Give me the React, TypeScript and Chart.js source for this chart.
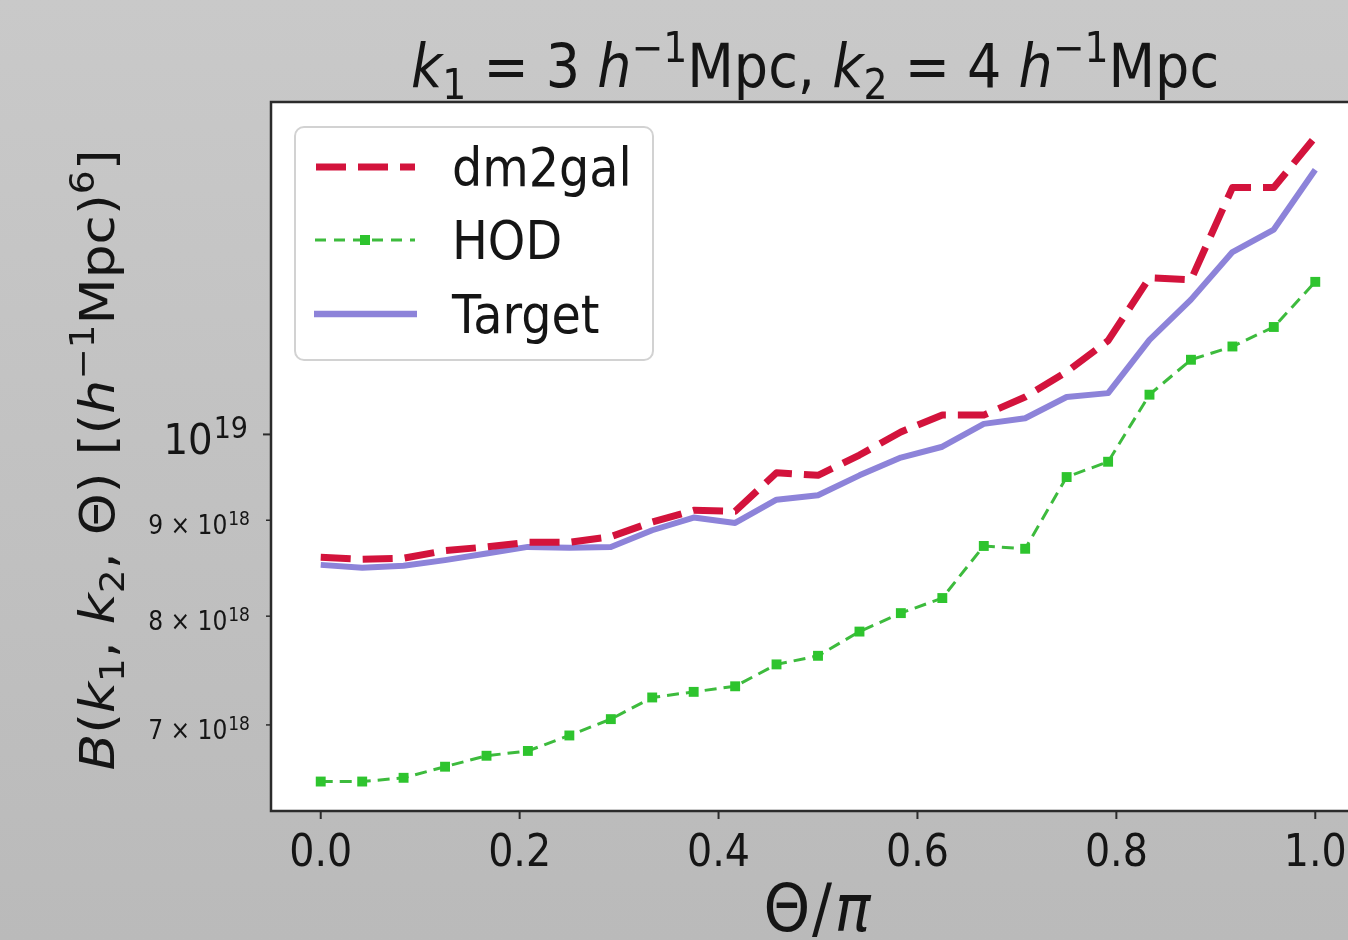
import React, { useEffect, useRef } from "react";
import { Chart, registerables } from "chart.js";

Chart.register(...registerables);

// ---------------- data ----------------
const theta = [
  0, 0.0417, 0.0833, 0.125, 0.1667, 0.2083, 0.25, 0.2917, 0.3333, 0.375, 0.4167, 0.4583, 0.5,
  0.5417, 0.5833, 0.625, 0.6667, 0.7083, 0.75, 0.7917, 0.8333, 0.875, 0.9167, 0.9583, 1.0,
];
const dm2gal = [
  8.6e18, 8.58e18, 8.59e18, 8.67e18, 8.71e18, 8.76e18, 8.76e18, 8.82e18, 8.98e18, 9.11e18, 9.1e18,
  9.54e18, 9.51e18, 9.75e18, 1.003e19, 1.024e19, 1.024e19, 1.047e19, 1.08e19, 1.122e19, 1.212e19,
  1.209e19, 1.354e19, 1.354e19, 1.441e19,
];
const hod = [
  6.53e18, 6.53e18, 6.56e18, 6.65e18, 6.74e18, 6.78e18, 6.91e18, 7.05e18, 7.24e18, 7.29e18, 7.34e18,
  7.54e18, 7.62e18, 7.85e18, 8.03e18, 8.18e18, 8.72e18, 8.69e18, 9.49e18, 9.67e18, 1.05e19,
  1.096e19, 1.114e19, 1.141e19, 1.206e19,
];
const targetVals = [
  8.52e18, 8.49e18, 8.51e18, 8.57e18, 8.64e18, 8.71e18, 8.7e18, 8.71e18, 8.89e18, 9.03e18, 8.97e18,
  9.23e18, 9.28e18, 9.51e18, 9.72e18, 9.85e18, 1.013e19, 1.02e19, 1.047e19, 1.052e19, 1.123e19,
  1.18e19, 1.251e19, 1.286e19, 1.384e19,
];
const seriesLabels = ["dm2gal", "HOD", "Target"];
const xTicks = [0, 0.2, 0.4, 0.6, 0.8, 1.0];
const xTickLabels = ["0.0", "0.2", "0.4", "0.6", "0.8", "1.0"];
const yMajorTicks = [1e19];
const yMajorExp = ["19"];
const yMinorTicks = [7e18, 8e18, 9e18];
const yMinorMant = ["7", "8", "9"];
const yMinorExp = ["18", "18", "18"];

// ---------------- styles ----------------
const FONT = "'DejaVu Sans', sans-serif";
const SX = 0.9;
const INK = "#151515";
const RED = "#d3133c";
const GREEN_LINE = "#3dbb3d";
const GREEN_MARK = "#2ec42e";
const PURPLE = "#8d83d9";

type Part = { t: string; s: number; it?: boolean; dy?: number; dx?: number };

function fontOf(p: Part) {
  return `${p.it ? "italic " : ""}${p.s}px ${FONT}`;
}

function drawParts(ctx: CanvasRenderingContext2D, parts: Part[], align: "left" | "center" | "right") {
  let total = 0;
  const widths = parts.map((p) => {
    ctx.font = fontOf(p);
    const w = ctx.measureText(p.t).width;
    total += w + (p.dx || 0);
    return w;
  });
  let cx = align === "left" ? 0 : align === "center" ? -total / 2 : -total;
  ctx.textAlign = "left";
  ctx.textBaseline = "alphabetic";
  parts.forEach((p, i) => {
    cx += p.dx || 0;
    ctx.font = fontOf(p);
    ctx.fillText(p.t, cx, p.dy || 0);
    cx += widths[i];
  });
}

function textAt(
  ctx: CanvasRenderingContext2D,
  parts: Part[],
  x: number,
  y: number,
  align: "left" | "center" | "right",
  rotate = false
) {
  ctx.save();
  ctx.translate(x, y);
  if (rotate) {
    ctx.rotate(-Math.PI / 2);
    ctx.scale(1, SX);
  } else {
    ctx.scale(SX, 1);
  }
  ctx.fillStyle = INK;
  drawParts(ctx, parts, align);
  ctx.restore();
}

const decor = {
  id: "decor",
  beforeDraw(chart: any) {
    const { ctx, chartArea: a } = chart;
    ctx.save();
    ctx.fillStyle = "#ffffff";
    ctx.fillRect(a.left, a.top, a.right - a.left, a.bottom - a.top);
    ctx.restore();
  },
  afterDraw(chart: any) {
    const { ctx, chartArea: a, scales } = chart;
    const xs = scales.x;
    const ys = scales.y;
    ctx.save();
    // frame
    ctx.strokeStyle = "#2b2b2b";
    ctx.lineWidth = 2.5;
    ctx.beginPath();
    ctx.moveTo(a.right + 2, a.top);
    ctx.lineTo(a.left, a.top);
    ctx.lineTo(a.left, a.bottom);
    ctx.lineTo(a.right + 2, a.bottom);
    ctx.stroke();

    // x ticks
    ctx.lineWidth = 2;
    xTicks.forEach((v, i) => {
      const px = xs.getPixelForValue(v);
      ctx.beginPath();
      ctx.moveTo(px, a.bottom);
      ctx.lineTo(px, a.bottom + 8);
      ctx.stroke();
      textAt(ctx, [{ t: xTickLabels[i], s: 44 }], px, 866, "center");
    });

    // y major ticks
    yMajorTicks.forEach((v, i) => {
      const py = ys.getPixelForValue(v);
      ctx.lineWidth = 2;
      ctx.beginPath();
      ctx.moveTo(a.left, py);
      ctx.lineTo(a.left - 8, py);
      ctx.stroke();
      textAt(ctx, [{ t: "10", s: 43 }, { t: yMajorExp[i], s: 30, dy: -16, dx: 1 }], 248, py + 20, "right");
    });
    // y minor ticks
    yMinorTicks.forEach((v, i) => {
      const py = ys.getPixelForValue(v);
      ctx.lineWidth = 1.5;
      ctx.beginPath();
      ctx.moveTo(a.left, py);
      ctx.lineTo(a.left - 5, py);
      ctx.stroke();
      textAt(
        ctx,
        [
          { t: yMinorMant[i] + " \u00d7 10", s: 26 },
          { t: yMinorExp[i], s: 19, dy: -9, dx: 1 },
        ],
        250,
        py + 14,
        "right"
      );
    });

    // title
    const T = 60;
    const sub = 0.7 * T;
    textAt(
      ctx,
      [
        { t: "k", s: T, it: true },
        { t: "1", s: sub, dy: 0.2 * T },
        { t: " = 3 ", s: T },
        { t: "h", s: T, it: true },
        { t: "\u22121", s: sub, dy: -0.42 * T },
        { t: "Mpc, ", s: T },
        { t: "k", s: T, it: true },
        { t: "2", s: sub, dy: 0.2 * T },
        { t: " = 4 ", s: T },
        { t: "h", s: T, it: true },
        { t: "\u22121", s: sub, dy: -0.42 * T },
        { t: "Mpc", s: T },
      ],
      815,
      87,
      "center"
    );

    // x title
    textAt(
      ctx,
      [
        { t: "\u0398", s: 66 },
        { t: "/", s: 66, dx: 2 },
        { t: "\u03c0", s: 66, it: true, dx: 3 },
      ],
      817,
      931,
      "center"
    );

    // y title
    const Y = 53.5;
    const ysub = 0.7 * Y;
    textAt(
      ctx,
      [
        { t: "B", s: Y, it: true },
        { t: "(", s: Y },
        { t: "k", s: Y, it: true },
        { t: "1", s: ysub, dy: 0.2 * Y },
        { t: ", ", s: Y },
        { t: "k", s: Y, it: true },
        { t: "2", s: ysub, dy: 0.2 * Y },
        { t: ", \u0398) [(", s: Y },
        { t: "h", s: Y, it: true },
        { t: "\u22121", s: ysub, dy: -0.42 * Y },
        { t: "Mpc)", s: Y },
        { t: "6", s: ysub, dy: -0.42 * Y },
        { t: "]", s: Y },
      ],
      114,
      460,
      "center",
      true
    );

    // legend
    const lx = 295, ly = 127, lw = 358, lh = 233;
    ctx.beginPath();
    (ctx as any).roundRect(lx, ly, lw, lh, 9);
    ctx.fillStyle = "rgba(255,255,255,0.9)";
    ctx.fill();
    ctx.strokeStyle = "#d2d2d2";
    ctx.lineWidth = 2;
    ctx.stroke();

    const rows = [167, 240, 314];
    // dm2gal
    ctx.save();
    ctx.strokeStyle = RED;
    ctx.lineWidth = 7;
    ctx.lineCap = "butt";
    ctx.setLineDash([30, 12]);
    ctx.beginPath();
    ctx.moveTo(316, rows[0]);
    ctx.lineTo(415, rows[0]);
    ctx.stroke();
    ctx.restore();
    // HOD
    ctx.save();
    ctx.strokeStyle = GREEN_LINE;
    ctx.lineWidth = 3;
    ctx.setLineDash([11, 8]);
    ctx.beginPath();
    ctx.moveTo(315, rows[1]);
    ctx.lineTo(415, rows[1]);
    ctx.stroke();
    ctx.restore();
    ctx.fillStyle = GREEN_MARK;
    ctx.fillRect(360, rows[1] - 5, 10, 10);
    // Target
    ctx.save();
    ctx.strokeStyle = PURPLE;
    ctx.lineWidth = 6.5;
    ctx.beginPath();
    ctx.moveTo(314, rows[2]);
    ctx.lineTo(417, rows[2]);
    ctx.stroke();
    ctx.restore();

    rows.forEach((ry, i) => {
      textAt(ctx, [{ t: seriesLabels[i], s: 53 }], 452, ry + 19, "left");
    });

    ctx.restore();
  },
};

export default function App() {
  const ref = useRef<HTMLCanvasElement>(null);
  useEffect(() => {
    if (!ref.current) return;
    const mk = (vals: number[]) => theta.map((x, i) => ({ x, y: vals[i] }));
    const chart = new Chart(ref.current, {
      type: "line",
      data: {
        datasets: [
          {
            label: seriesLabels[0],
            data: mk(dm2gal),
            borderColor: RED,
            borderWidth: 7,
            borderDash: [30, 12],
            borderCapStyle: "butt",
            borderJoinStyle: "round",
            pointRadius: 0,
            tension: 0,
            fill: false,
          },
          {
            label: seriesLabels[1],
            data: mk(hod),
            borderColor: GREEN_LINE,
            borderWidth: 3,
            borderDash: [12, 7],
            pointStyle: "rect",
            pointRadius: 7,
            pointBorderWidth: 0,
            pointBackgroundColor: GREEN_MARK,
            pointBorderColor: GREEN_MARK,
            tension: 0,
            fill: false,
          },
          {
            label: seriesLabels[2],
            data: mk(targetVals),
            borderColor: PURPLE,
            borderWidth: 6,
            borderJoinStyle: "round",
            pointRadius: 0,
            tension: 0,
            fill: false,
          },
        ],
      },
      options: {
        animation: false,
        responsive: false,
        devicePixelRatio: 1,
        events: [],
        layout: { padding: { top: 102, left: 0, right: 0, bottom: 0 } },
        plugins: { legend: { display: false }, title: { display: false }, tooltip: { enabled: false } },
        scales: {
          x: {
            type: "linear",
            min: -0.05,
            max: 1.05,
            bounds: "data",
            grid: { display: false },
            border: { display: false },
            ticks: { display: false },
            afterFit: (s: any) => {
              s.height = 129;
            },
          },
          y: {
            type: "logarithmic",
            min: 6.298e18,
            max: 1.504e19,
            bounds: "data",
            grid: { display: false },
            border: { display: false },
            ticks: { display: false },
            afterFit: (s: any) => {
              s.width = 271;
            },
          },
        },
      },
      plugins: [decor],
    } as any);
    return () => chart.destroy();
  }, []);

  return (
    <div
      style={{
        position: "fixed",
        left: 0,
        top: 0,
        width: 1348,
        height: 940,
        overflow: "hidden",
        background: "linear-gradient(#c9c9c9, #bababa)",
      }}
    >
      <canvas ref={ref} width={1372} height={940} style={{ display: "block", width: 1372, height: 940 }} />
    </div>
  );
}
